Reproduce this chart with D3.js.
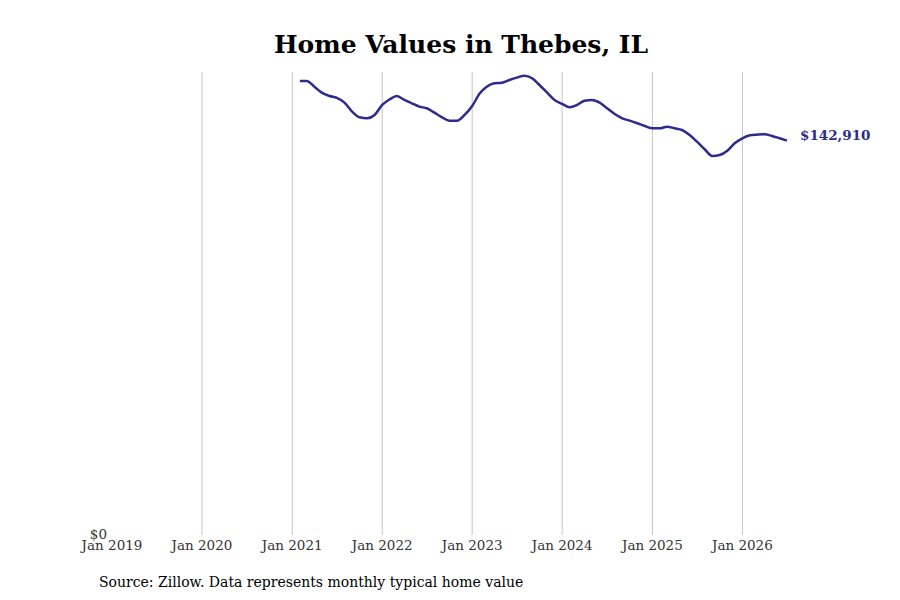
<!DOCTYPE html>
<html lang="en">
<head>
    <meta charset="UTF-8">
    <title>Home Values in Thebes, IL</title>
    <style>
        body {
            margin: 0;
            padding: 0;
            background-color: #fff;
            font-family: "DejaVu Serif", serif;
        }
    </style>
</head>
<body>
    <div id="chart"></div>

    <script src="https://d3js.org/d3.v7.min.js"></script>
    <script>
        // Monthly typical home value, Feb 2021 .. Jul 2026
        const startMonth = "2021-02";
        const homeValues = [
            164530, 164530, 162470, 160290, 159090, 158370, 156670, 153400, 151370, 151010, 152210,
            155830, 157900, 159090, 157640, 156450, 155220, 154640, 153040, 151370, 150140, 150140, 152210,
            155470, 160070, 162470, 163700, 163910, 164890, 165730, 166450, 165510, 163080, 160290, 157640,
            156190, 155000, 155830, 157390, 157640, 156670, 154640, 152570, 151010, 150140, 149200, 148220,
            147390, 147390, 147970, 147390, 146770, 144960, 142530, 139780, 137350, 137710, 139270, 141950,
            143760, 144850, 145070, 145210, 144600, 143760, 142910
        ];
        const tickYears = [2019, 2020, 2021, 2022, 2023, 2024, 2025, 2026];
        const gridYears = [2020, 2021, 2022, 2023, 2024, 2025, 2026];

        const width = 900;
        const height = 600;
        const margin = { top: 72, right: 113, bottom: 65, left: 112 };

        const parseMonth = d3.timeParse("%Y-%m");
        const first = parseMonth(startMonth);
        const data = homeValues.map((v, i) => ({ date: d3.timeMonth.offset(first, i), value: v }));

        const svg = d3.select("#chart")
            .append("svg")
            .attr("width", width)
            .attr("height", height);

        const x = d3.scaleTime()
            .domain([new Date(2019, 0, 1), new Date(2026, 6, 1)])
            .range([margin.left, width - margin.right]);

        const y = d3.scaleLinear()
            .domain([0, d3.max(homeValues) * 1.008])
            .range([height - margin.bottom, margin.top]);

        // vertical gridlines
        svg.append("g")
            .selectAll("line")
            .data(gridYears)
            .enter().append("line")
            .attr("x1", d => x(new Date(d, 0, 1)))
            .attr("x2", d => x(new Date(d, 0, 1)))
            .attr("y1", margin.top)
            .attr("y2", height - margin.bottom)
            .attr("stroke", "#c4c4c4")
            .attr("stroke-width", 1);

        // x tick labels
        svg.append("g")
            .selectAll("text")
            .data(tickYears)
            .enter().append("text")
            .attr("x", d => x(new Date(d, 0, 1)))
            .attr("y", height - margin.bottom + 15)
            .attr("text-anchor", "middle")
            .attr("font-size", "13.5px")
            .attr("fill", "#333")
            .text(d => "Jan " + d);

        // y label ($0 only) - sits over the first tick label as in the original
        svg.append("text")
            .attr("x", margin.left - 5)
            .attr("y", y(0) + 4)
            .attr("text-anchor", "end")
            .attr("font-size", "13.5px")
            .attr("fill", "#333")
            .text("$0");

        const line = d3.line()
            .x(d => x(d.date))
            .y(d => y(d.value))
            .curve(d3.curveMonotoneX);

        svg.append("path")
            .datum(data)
            .attr("fill", "none")
            .attr("stroke", "#2e2b8c")
            .attr("stroke-width", 2.5)
            .attr("d", line);

        // end label
        const last = data[data.length - 1];
        svg.append("text")
            .attr("x", x(last.date) + 13)
            .attr("y", y(last.value) - 1)
            .attr("font-size", "13.5px")
            .attr("font-weight", "bold")
            .attr("fill", "#2e2b8c")
            .text(d3.format("$,")(last.value));

        // title
        svg.append("text")
            .attr("x", 461)
            .attr("y", 53)
            .attr("text-anchor", "middle")
            .attr("font-size", "25px")
            .attr("font-weight", "bold")
            .attr("fill", "#000")
            .text("Home Values in Thebes, IL");

        // source note
        svg.append("text")
            .attr("x", 99)
            .attr("y", 587)
            .attr("font-size", "14px")
            .attr("fill", "#000")
            .text("Source: Zillow. Data represents monthly typical home value");
    </script>
</body>
</html>
